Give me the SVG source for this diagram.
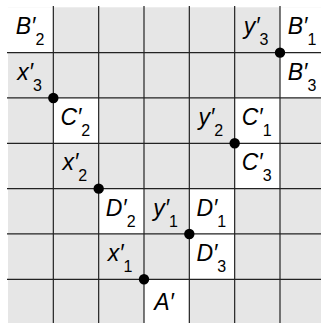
<svg xmlns="http://www.w3.org/2000/svg" width="321" height="323" viewBox="0 0 321 323">
<style>
.bg{fill:#e6e6e6}
.w{fill:#ffffff}
.gl{stroke:#222;stroke-width:1.2;fill:none}
.dot{fill:#000}
text{font-family:"Liberation Sans",Arial,sans-serif;fill:#000;font-size:23px;font-style:italic;text-anchor:middle}
.s{font-size:16px;font-style:normal}
</style>
<rect class="bg" x="8" y="7.3" width="313" height="316"/>
<g id="white-cells">
<rect class="w" x="8" y="7.3" width="45.33" height="45.33"/>
<rect class="w" x="280" y="7.3" width="45.33" height="45.33"/>
<rect class="w" x="280" y="52.63" width="45.33" height="45.33"/>
<rect class="w" x="53.33" y="97.97" width="45.33" height="45.33"/>
<rect class="w" x="234.67" y="97.97" width="45.33" height="45.33"/>
<rect class="w" x="234.67" y="143.3" width="45.33" height="45.33"/>
<rect class="w" x="98.67" y="188.63" width="45.33" height="45.33"/>
<rect class="w" x="189.33" y="188.63" width="45.33" height="45.33"/>
<rect class="w" x="189.33" y="233.97" width="45.33" height="45.33"/>
<rect class="w" x="144" y="279.3" width="45.33" height="45.33"/>
</g>
<g id="connectors" class="gl">
<line x1="53.33" y1="6" x2="53.33" y2="323"/>
<line x1="98.67" y1="6" x2="98.67" y2="323"/>
<line x1="144" y1="6" x2="144" y2="323"/>
<line x1="189.33" y1="6" x2="189.33" y2="323"/>
<line x1="234.67" y1="6" x2="234.67" y2="323"/>
<line x1="280" y1="6" x2="280" y2="323"/>
<line x1="7" y1="52.63" x2="321" y2="52.63"/>
<line x1="7" y1="97.97" x2="321" y2="97.97"/>
<line x1="7" y1="143.3" x2="321" y2="143.3"/>
<line x1="7" y1="188.63" x2="321" y2="188.63"/>
<line x1="7" y1="233.97" x2="321" y2="233.97"/>
<line x1="7" y1="279.3" x2="321" y2="279.3"/>
</g>
<g id="dots">
<circle class="dot" cx="53.33" cy="97.97" r="5.2"/>
<circle class="dot" cx="280" cy="52.63" r="5.2"/>
<circle class="dot" cx="234.67" cy="143.3" r="5.2"/>
<circle class="dot" cx="98.67" cy="188.63" r="5.2"/>
<circle class="dot" cx="189.33" cy="233.97" r="5.2"/>
<circle class="dot" cx="144" cy="279.3" r="5.2"/>
</g>
<g id="B2" transform="translate(8,7.3)"><text x="22" y="27">B′<tspan class="s" dy="11">2</tspan></text></g>
<g id="y3" transform="translate(234.67,7.3)"><text x="21.5" y="27">y′<tspan class="s" dy="11">3</tspan></text></g>
<g id="B1" transform="translate(280,7.3)"><text x="22" y="27">B′<tspan class="s" dy="11">1</tspan></text></g>
<g id="x3" transform="translate(8,52.63)"><text x="21.5" y="27">x′<tspan class="s" dy="11">3</tspan></text></g>
<g id="B3" transform="translate(280,52.63)"><text x="22" y="27">B′<tspan class="s" dy="11">3</tspan></text></g>
<g id="C2" transform="translate(53.33,97.97)"><text x="22" y="27">C′<tspan class="s" dy="11">2</tspan></text></g>
<g id="y2" transform="translate(189.33,97.97)"><text x="21.5" y="27">y′<tspan class="s" dy="11">2</tspan></text></g>
<g id="C1" transform="translate(234.67,97.97)"><text x="22" y="27">C′<tspan class="s" dy="11">1</tspan></text></g>
<g id="x2" transform="translate(53.33,143.3)"><text x="21.5" y="27">x′<tspan class="s" dy="11">2</tspan></text></g>
<g id="C3" transform="translate(234.67,143.3)"><text x="22" y="27">C′<tspan class="s" dy="11">3</tspan></text></g>
<g id="D2" transform="translate(98.67,188.63)"><text x="22" y="27">D′<tspan class="s" dy="11">2</tspan></text></g>
<g id="y1" transform="translate(144,188.63)"><text x="21.5" y="27">y′<tspan class="s" dy="11">1</tspan></text></g>
<g id="D1" transform="translate(189.33,188.63)"><text x="22" y="27">D′<tspan class="s" dy="11">1</tspan></text></g>
<g id="x1" transform="translate(98.67,233.97)"><text x="21.5" y="27">x′<tspan class="s" dy="11">1</tspan></text></g>
<g id="D3" transform="translate(189.33,233.97)"><text x="22" y="27">D′<tspan class="s" dy="11">3</tspan></text></g>
<g id="A" transform="translate(144,279.3)"><text x="20" y="31">A′</text></g>
</svg>
